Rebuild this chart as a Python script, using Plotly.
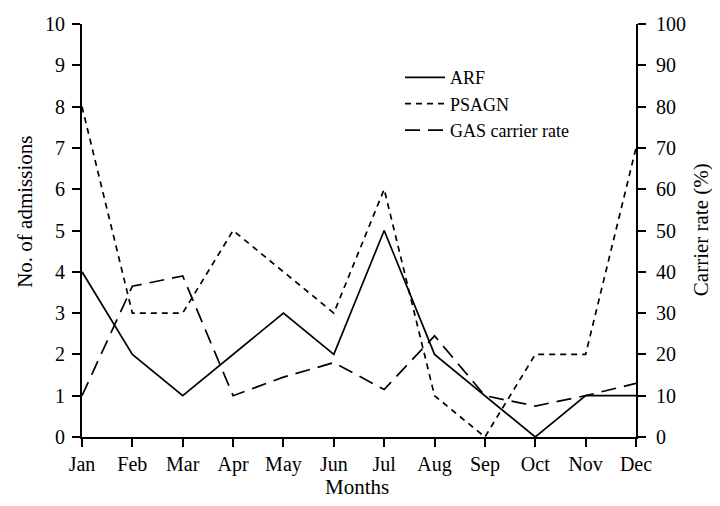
import plotly.graph_objects as go

months = ["Jan", "Feb", "Mar", "Apr", "May", "Jun", "Jul", "Aug", "Sep", "Oct", "Nov", "Dec"]
arf = [4, 2, 1, 2, 3, 2, 5, 2, 1, 0, 1, 1]
psagn = [8, 3, 3, 5, 4, 3, 6, 1, 0, 2, 2, 7]
gas_rate = [10, 36.5, 39, 10, 14.5, 18, 11.5, 24.5, 10, 7.5, 10, 13]

FONT = "Liberation Serif, Times New Roman, serif"
TICKSIZE = 20
TITLESIZE = 21

fig = go.Figure()
fig.add_trace(go.Scatter(x=months, y=arf, name="ARF", mode="lines",
                         line=dict(color="black", width=1.7)))
fig.add_trace(go.Scatter(x=months, y=psagn, name="PSAGN", mode="lines",
                         line=dict(color="black", width=1.7, dash="6px,5px")))
fig.add_trace(go.Scatter(x=months, y=gas_rate, name="GAS carrier rate", mode="lines",
                         yaxis="y2", line=dict(color="black", width=1.7, dash="15px,8px")))

axis_common = dict(showgrid=False, zeroline=False, showline=True, linecolor="black",
                   linewidth=2, ticks="outside", ticklen=8, tickwidth=2,
                   tickcolor="black", automargin=False,
                   tickfont=dict(family=FONT, size=TICKSIZE, color="black"))

# page body has an 8px margin; keep the figure inside the 720x506 window
fig.update_layout(
    width=704, height=490,
    margin=dict(l=74, r=76, t=16, b=61),
    plot_bgcolor="white", paper_bgcolor="white",
    font=dict(family=FONT, color="black"),
    xaxis=dict(axis_common, range=[0, 11], type="category", ticklabelstandoff=0),
    yaxis=dict(axis_common, range=[0, 10], dtick=1, ticklabelstandoff=3),
    yaxis2=dict(axis_common, range=[0, 100], dtick=10, overlaying="y", side="right",
                ticklabelstandoff=6),
    legend=dict(x=0.574, y=0.915, xanchor="left", yanchor="top",
                font=dict(family=FONT, size=18, color="black"),
                bgcolor="rgba(0,0,0,0)", itemwidth=40, tracegroupgap=0),
    showlegend=True,
    annotations=[
        dict(text="No. of admissions", xref="paper", yref="paper", x=-0.103, y=0.545,
             xanchor="center", yanchor="middle", textangle=-90, showarrow=False,
             font=dict(family=FONT, size=TITLESIZE, color="black")),
        dict(text="Carrier rate (%)", xref="paper", yref="paper", x=1.1175, y=0.501,
             xanchor="center", yanchor="middle", textangle=-90, showarrow=False,
             font=dict(family=FONT, size=TITLESIZE, color="black")),
        dict(text="Months", xref="paper", yref="paper", x=0.496, y=-0.121,
             xanchor="center", yanchor="middle", showarrow=False,
             font=dict(family=FONT, size=TITLESIZE, color="black")),
    ],
)

fig.write_html("out.html")
